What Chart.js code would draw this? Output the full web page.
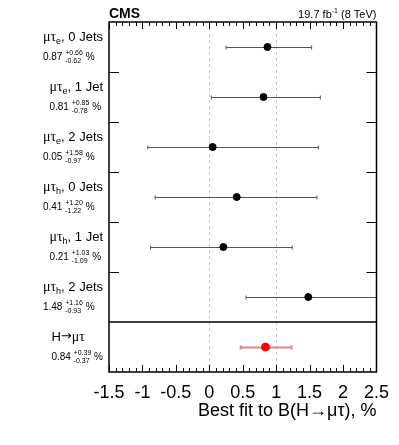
<!DOCTYPE html>
<html>
<head>
<meta charset="utf-8">
<script src="https://cdn.jsdelivr.net/npm/chart.js@4.4.0/dist/chart.umd.min.js"></script>
<style>
  body { margin: 0; background: #fff; }
  #wrap { width: 399px; height: 445px; }
</style>
</head>
<body>
<div id="wrap"><canvas id="myChart" width="399" height="445"></canvas></div>
<script>
// channel labels (top to bottom)
const channelSubs = ["e", "e", "e", "h", "h", "h"];
const channelJets = ["0 Jets", "1 Jet", "2 Jets", "0 Jets", "1 Jet", "2 Jets"];
// best fit values, %
const bestFit = [0.87, 0.81, 0.05, 0.41, 0.21, 1.48, 0.84];
const errUp = [0.66, 0.85, 1.58, 1.20, 1.03, 1.16, 0.39];
const errDown = [0.62, 0.78, 0.97, 1.22, 1.09, 0.93, 0.37];
const xTicks = [-1.5, -1, -0.5, 0, 0.5, 1, 1.5, 2, 2.5];

const SANS = "'Liberation Sans', Arial, sans-serif";
const SERIF = "'Liberation Serif', serif";

const fmt = (v) => v.toFixed(2);

function measure(ctx, pieces) {
    let total = 0;
    pieces.forEach(p => { ctx.font = p.font; p.w = ctx.measureText(p.t).width; total += p.w; });
    return total;
}

function drawPieces(ctx, pieces, x, y) {
    measure(ctx, pieces);
    pieces.forEach(p => {
        ctx.font = p.font;
        ctx.fillText(p.t, x, y + (p.dy || 0));
        x += p.w;
    });
}

// value line: 0.87 +0.66/-0.62 %
function valueWidth(ctx, i) {
    ctx.font = "10px " + SANS;
    const w0 = ctx.measureText(fmt(bestFit[i]) + " ").width;
    ctx.font = "7px " + SANS;
    const wErr = Math.max(ctx.measureText("+" + fmt(errUp[i])).width, ctx.measureText("-" + fmt(errDown[i])).width);
    ctx.font = "10px " + SANS;
    const wPct = ctx.measureText(" %").width;
    return { w0, wErr, wPct, total: w0 + wErr + wPct };
}

function drawValueLine(ctx, i, x, y) {
    const m = valueWidth(ctx, i);
    ctx.font = "10px " + SANS;
    ctx.fillText(fmt(bestFit[i]), x, y);
    x += m.w0;
    ctx.font = "7px " + SANS;
    ctx.fillText("+" + fmt(errUp[i]), x, y - 4);
    ctx.fillText("-" + fmt(errDown[i]), x, y + 4);
    x += m.wErr;
    ctx.font = "10px " + SANS;
    ctx.fillText(" %", x, y);
}

function drawLabel(ctx, pieces, i, xRight, cy) {
    const w1 = measure(ctx, pieces);
    const w2 = valueWidth(ctx, i).total;
    const left = xRight - Math.max(w1, w2);
    ctx.textBaseline = "middle";
    ctx.textAlign = "left";
    drawPieces(ctx, pieces, left, cy - 10);
    drawValueLine(ctx, i, left, cy + 10);
}

const cmsPlugin = {
    id: "cmsPlugin",
    beforeDatasetsDraw(chart) {
        const { ctx, chartArea: a, scales: { x, y } } = chart;
        ctx.save();
        // dashed reference lines
        ctx.strokeStyle = "#c8c8c8";
        ctx.lineWidth = 1;
        ctx.setLineDash([3, 3]);
        [0, 1].forEach(v => {
            const px = Math.round(x.getPixelForValue(v)) + 0.5;
            ctx.beginPath(); ctx.moveTo(px, a.top); ctx.lineTo(px, a.bottom); ctx.stroke();
        });
        ctx.setLineDash([]);
        // error bars
        ctx.beginPath(); ctx.rect(a.left, a.top, a.right - a.left, a.bottom - a.top); ctx.clip();
        bestFit.forEach((v, i) => {
            const py = Math.round(y.getPixelForValue(i + 0.5)) + 0.5;
            const x1 = x.getPixelForValue(v - errDown[i]);
            const x2 = x.getPixelForValue(v + errUp[i]);
            const last = i === bestFit.length - 1;
            ctx.strokeStyle = last ? "rgba(235,90,90,0.75)" : "#555";
            ctx.lineWidth = last ? 2 : 1;
            ctx.beginPath();
            ctx.moveTo(x1, py); ctx.lineTo(x2, py);
            ctx.moveTo(x1, py - 2); ctx.lineTo(x1, py + 2);
            ctx.moveTo(x2, py - 2); ctx.lineTo(x2, py + 2);
            ctx.stroke();
        });
        ctx.restore();
    },
    afterDraw(chart) {
        const { ctx, chartArea: a, scales: { x, y } } = chart;
        ctx.save();
        ctx.strokeStyle = "#000";
        ctx.lineWidth = 1;
        // minor/major ticks on top and bottom
        for (let k = -15; k <= 25; k++) {
            const px = Math.round(x.getPixelForValue(k / 10)) + 0.5;
            const len = k % 5 === 0 ? 7 : 4;
            ctx.beginPath();
            ctx.moveTo(px, a.top); ctx.lineTo(px, a.top + len);
            ctx.moveTo(px, a.bottom); ctx.lineTo(px, a.bottom - len);
            ctx.stroke();
        }
        // row ticks on left and right
        for (let r = 1; r <= 5; r++) {
            const py = Math.round(y.getPixelForValue(r)) + 0.5;
            ctx.beginPath();
            ctx.moveTo(a.left, py); ctx.lineTo(a.left + 10, py);
            ctx.moveTo(a.right, py); ctx.lineTo(a.right - 10, py);
            ctx.stroke();
        }
        // separator before combined result
        ctx.lineWidth = 1.5;
        const sy = y.getPixelForValue(6);
        ctx.beginPath(); ctx.moveTo(a.left, sy); ctx.lineTo(a.right, sy); ctx.stroke();
        // frame
        ctx.strokeRect(a.left, a.top, a.right - a.left, a.bottom - a.top);

        // header
        ctx.fillStyle = "#000";
        ctx.textBaseline = "alphabetic";
        ctx.textAlign = "left";
        ctx.font = "bold 14px " + SANS;
        ctx.fillText("CMS", a.left, 18);
        const lumi = [
            { t: "19.7 fb", font: "11px " + SANS },
            { t: "-1", font: "7px " + SANS, dy: -5 },
            { t: " (8 TeV)", font: "11px " + SANS }
        ];
        drawPieces(ctx, lumi, a.right - measure(ctx, lumi), 18);

        // left labels
        const xr = a.left - 6;
        channelJets.forEach((jets, i) => {
            drawLabel(ctx, [
                { t: "\u03bc\u03c4", font: "14px " + SERIF },
                { t: channelSubs[i], font: "9px " + SANS, dy: 5 },
                { t: ", " + jets, font: "13px " + SANS }
            ], i, xr, y.getPixelForValue(i + 0.5));
        });
        drawLabel(ctx, [
            { t: "H", font: "13px " + SANS },
            { t: "\u2192", font: "13px 'DejaVu Sans'" },
            { t: "\u03bc\u03c4", font: "14px " + SERIF }
        ], 6, xr, y.getPixelForValue(6.5));
        ctx.restore();
    }
};

const ctx = document.getElementById("myChart").getContext("2d");
const chart = new Chart(ctx, {
    type: "scatter",
    data: {
        datasets: [
            {
                label: "Channels",
                data: bestFit.slice(0, 6).map((v, i) => ({ x: v, y: i + 0.5 })),
                backgroundColor: "#000",
                borderColor: "#000",
                pointRadius: 3.5
            },
            {
                label: "Combined",
                data: [{ x: bestFit[6], y: 6.5 }],
                backgroundColor: "#ff0000",
                borderColor: "#ff0000",
                pointRadius: 4
            }
        ]
    },
    options: {
        responsive: false,
        animation: false,
        layout: { padding: { left: 109, top: 22, right: 21, bottom: 23 } },
        scales: {
            x: {
                type: "linear",
                min: -1.5,
                max: 2.5,
                afterBuildTicks: (scale) => { scale.ticks = xTicks.map(v => ({ value: v })); },
                afterFit: (scale) => { scale.height = 50; },
                grid: { display: false, drawTicks: false },
                border: { display: false },
                ticks: {
                    color: "#000",
                    padding: 10,
                    maxRotation: 0,
                    minRotation: 0,
                    autoSkip: false,
                    font: { family: SANS, size: 18 },
                    callback: (v) => String(v)
                },
                title: {
                    display: true,
                    text: "Best fit to B(H\u2192\u03bc\u03c4), %",
                    align: "end",
                    color: "#000",
                    padding: { top: 0, bottom: 0 },
                    font: { family: SANS, size: 18 }
                }
            },
            y: {
                type: "linear",
                min: 0,
                max: 7,
                reverse: true,
                display: false
            }
        },
        plugins: {
            legend: { display: false },
            tooltip: { enabled: false }
        }
    },
    plugins: [cmsPlugin]
});
</script>
</body>
</html>
